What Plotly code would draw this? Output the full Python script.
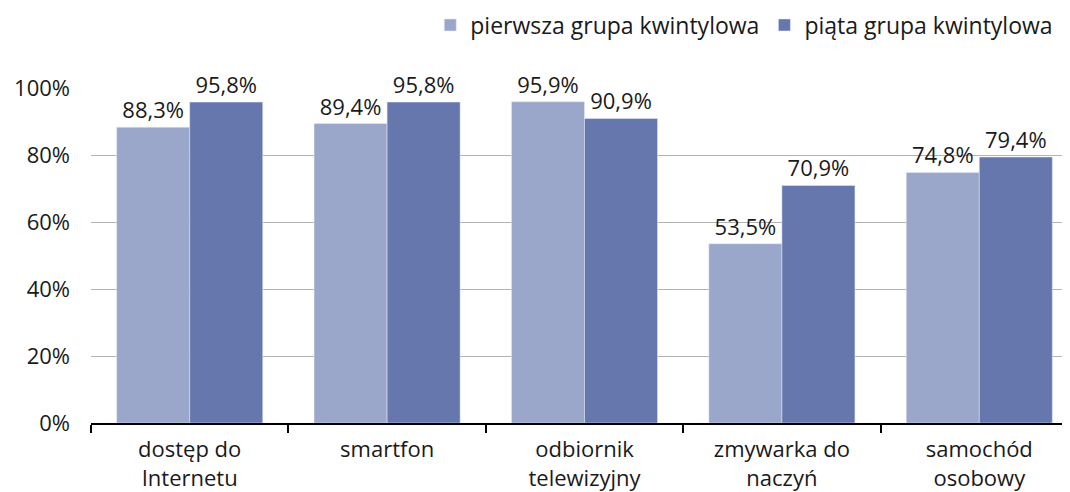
import plotly.graph_objects as go

categories = ["dostęp do<br>Internetu", "smartfon", "odbiornik<br>telewizyjny", "zmywarka do<br>naczyń", "samochód<br>osobowy"]
series_names = ["pierwsza grupa kwintylowa", "piąta grupa kwintylowa"]
first_quintile = [88.3, 89.4, 95.9, 53.5, 74.8]
fifth_quintile = [95.8, 95.8, 90.9, 70.9, 79.4]
y_ticks = [0, 20, 40, 60, 80, 100]

colors = ["#9aa7ca", "#6677ad"]
font_family = "Open Sans, Noto Sans, sans-serif"
FS = 22

def fmt(v):
    return f"{v:.1f}".replace(".", ",") + "%"

fig = go.Figure()
for name, vals, col in zip(series_names, [first_quintile, fifth_quintile], colors):
    fig.add_trace(go.Bar(
        name=name, x=categories, y=vals, marker_color=col,
        text=[fmt(v) for v in vals], textposition="outside",
        textfont=dict(size=FS, color="#1a1a1a"), cliponaxis=False,
    ))

fig.update_layout(
    width=1070, height=492,
    margin=dict(l=83, r=0, t=80, b=77, autoexpand=False),
    paper_bgcolor="white", plot_bgcolor="white",
    barmode="group", bargap=0.26, bargroupgap=0,
    font=dict(family=font_family, size=FS, color="#1a1a1a"),
    legend=dict(orientation="h", x=0.98, xref="paper", xanchor="right",
                y=1 - 17 / 492, yref="container", yanchor="middle",
                font=dict(size=23), traceorder="normal", itemwidth=30),
)
fig.update_yaxes(range=[0, 100], tickvals=y_ticks, ticktext=[f"{t}%" for t in y_ticks],
                 showgrid=True, gridcolor="#b3b3b3", gridwidth=1, zeroline=False,
                 showline=False, ticks="", ticklen=0, tickfont=dict(size=FS),
                 automargin=False, ticklabelstandoff=20)
fig.update_xaxes(showline=True, linecolor="black", linewidth=2, ticks="outside",
                 tickson="boundaries", ticklen=8, tickcolor="black", tickwidth=2,
                 tickfont=dict(size=FS), automargin=False, ticklabelstandoff=6)

fig.write_html("out.html")
